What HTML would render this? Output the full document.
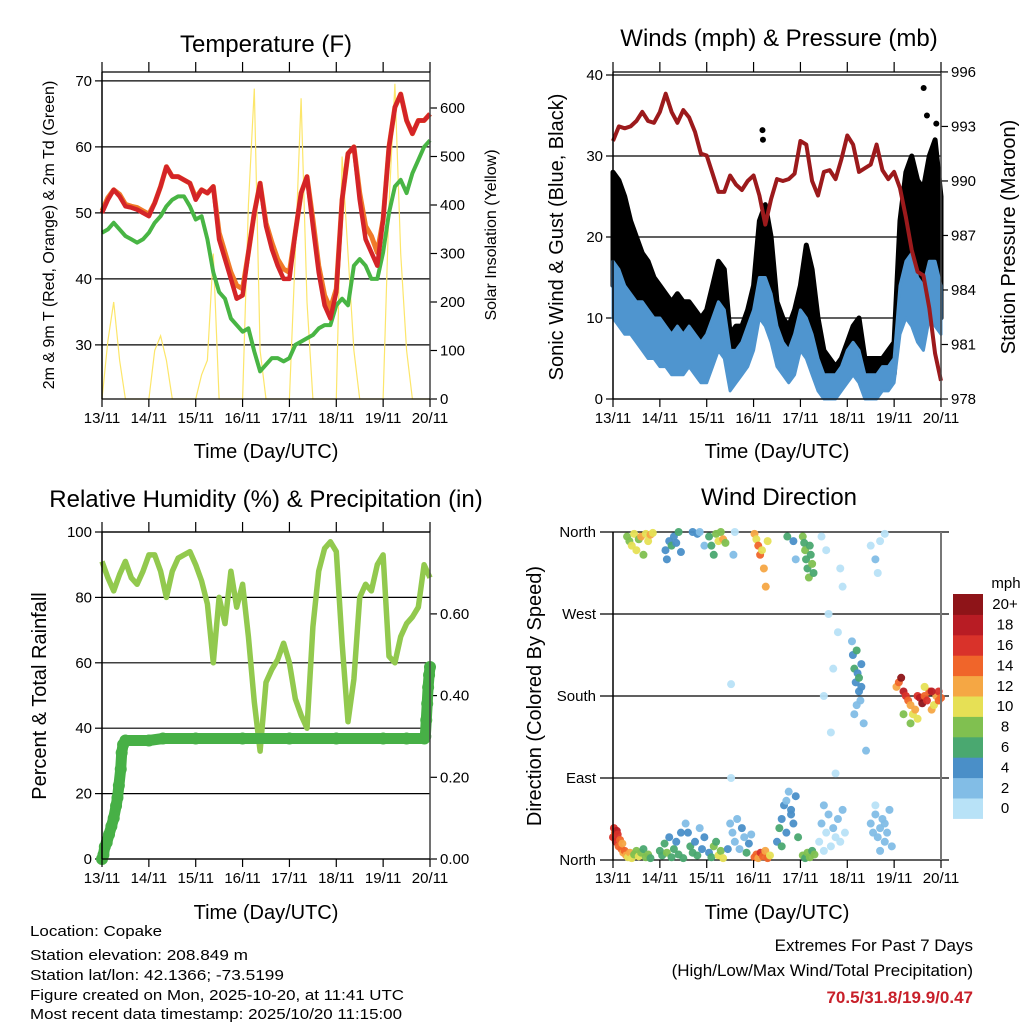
<!DOCTYPE html>
<html><head><meta charset="utf-8"><style>
html,body{margin:0;padding:0;background:#fff}
svg{display:block;font-family:"Liberation Sans",sans-serif}
</style></head><body>
<svg id="fig" width="1024" height="1024" viewBox="0 0 1024 1024" xmlns="http://www.w3.org/2000/svg">
<rect width="1024" height="1024" fill="#fff"/>
<g id="p1"></g>
<g id="p2"></g>
<g id="p3"></g>
<g id="p4"></g>
<g id="txt" font-size="22" fill="#000">
<text x="266" y="52" text-anchor="middle" font-size="24">Temperature (F)</text>
<text x="779" y="46" text-anchor="middle" font-size="24">Winds (mph) &amp; Pressure (mb)</text>
<text x="266" y="507" text-anchor="middle" font-size="24">Relative Humidity (%) &amp; Precipitation (in)</text>
<text x="779" y="505" text-anchor="middle" font-size="24">Wind Direction</text>
<text x="266" y="458" text-anchor="middle" font-size="20">Time (Day/UTC)</text>
<text x="777" y="458" text-anchor="middle" font-size="20">Time (Day/UTC)</text>
<text x="266" y="919" text-anchor="middle" font-size="20">Time (Day/UTC)</text>
<text x="777" y="919" text-anchor="middle" font-size="20">Time (Day/UTC)</text>
<text transform="translate(54,235) rotate(-90)" text-anchor="middle" font-size="16">2m &amp; 9m T (Red, Orange) &amp; 2m Td (Green)</text>
<text transform="translate(496,235) rotate(-90)" text-anchor="middle" font-size="16">Solar Insolation (Yellow)</text>
<text transform="translate(563,237) rotate(-90)" text-anchor="middle" font-size="20">Sonic Wind &amp; Gust (Blue, Black)</text>
<text transform="translate(1015,237) rotate(-90)" text-anchor="middle" font-size="20">Station Pressure (Maroon)</text>
<text transform="translate(46,696) rotate(-90)" text-anchor="middle" font-size="20">Percent &amp; Total Rainfall</text>
<text transform="translate(541,696) rotate(-90)" text-anchor="middle" font-size="20">Direction (Colored By Speed)</text>
<g font-size="15">
<text x="30" y="936" textLength="132" lengthAdjust="spacingAndGlyphs">Location: Copake</text>
<text x="30" y="960" textLength="218" lengthAdjust="spacingAndGlyphs">Station elevation: 208.849 m</text>
<text x="30" y="980" textLength="254" lengthAdjust="spacingAndGlyphs">Station lat/lon: 42.1366; -73.5199</text>
<text x="30" y="1000" textLength="374" lengthAdjust="spacingAndGlyphs">Figure created on Mon, 2025-10-20, at 11:41 UTC</text>
<text x="30" y="1019" textLength="372" lengthAdjust="spacingAndGlyphs">Most recent data timestamp: 2025/10/20 11:15:00</text>
</g>
<g font-size="17" text-anchor="end">
<text x="973" y="951">Extremes For Past 7 Days</text>
<text x="973" y="976">(High/Low/Max Wind/Total Precipitation)</text>
<text x="973" y="1003" fill="#c8202a" font-weight="bold">70.5/31.8/19.9/0.47</text>
</g>
<text x="1006" y="588" text-anchor="middle" font-size="15">mph</text>
</g>
</svg>
<script>
// ---- data (time axis: 3-hour steps from 13/11 00 UTC to 20/11 00 UTC) ----
const dayLabels = ["13/11","14/11","15/11","16/11","17/11","18/11","19/11","20/11"];
const temp2m = [50,52,53.5,52.5,51,50.8,50.5,50,49.5,51.5,54,57,55.5,55.5,55,54.5,52,53.5,53,54,46,43,40,37,37.5,44,50,54.5,48,44.5,42,40,40,47,53,55.5,48,41,36,34,38,52,59,60,52,46,44,42,49,60,66,68,64,62,64,64,65];
const temp9m = [50.3,52.3,53.5,52.8,51.3,51,50.8,50.3,49.8,51.5,54,57,55.5,55.5,55,54.5,52.3,53.5,53,54,47,44,41,39,38.5,44,50,54.5,48.5,45.5,43,41.5,41,47,53,55.5,49,42,37.5,35.5,38.5,52,59,60,53,48,46.5,44,49,60,66,68,64,62,64,64,65];
const dewPoint = [47,47.5,48.5,47.5,46.5,46,45.5,46,47,48.5,49.5,51,52,52.5,52.5,51,49,49.5,46,41,38,37,34,33,32,32.5,29,26,27,28,28,27.5,28,30,30.5,31,31.5,32.5,33,33,36,37,36,42,43,42,40,40,44,50,54,55,53,56,58,60,61];
const solar = [0,120,200,80,0,0,0,0,0,100,130,80,0,0,0,0,0,50,80,300,0,0,0,0,0,400,640,100,0,0,0,0,0,300,620,200,0,0,0,0,0,500,300,100,0,0,0,0,0,400,650,300,100,0,0,0,0];
const pressure = [992.2,993.0,992.9,993.0,993.3,993.8,993.3,993.2,993.8,994.8,993.8,993.2,993.9,993.5,992.7,991.5,991.4,990.4,989.4,989.4,990.3,989.8,989.5,990.0,990.3,989.2,987.6,989.0,990.1,990.0,990.1,990.4,992.2,992.0,990.0,989.2,990.5,990.6,990.1,991.2,992.5,992.0,990.5,990.7,990.9,992.0,990.6,990.1,990.5,989.6,988.0,986.2,985.0,984.8,983.0,980.5,979.0];
const windLow = [10,9,8,8,7,6,5,5,4,4,3,3,3,4,3,2,2,4,6,5,1,2,3,4,6,10,9,7,4,3,2,3,6,5,3,1,0,0,0,1,2,3,2,0,0,0,1,1,2,8,10,9,7,6,10,9,8];
const windHigh = [17,16,14,13,12,12,11,10,10,9,8,9,8,9,8,7,8,10,12,11,6,6,7,9,11,15,15,13,9,7,6,8,11,10,8,5,3,3,3,4,6,7,6,3,3,3,4,4,5,14,17,18,15,14,17,17,14];
const gustLow = [14,14,13,11,10,9,8,7,6,6,5,5,4,5,4,4,4,6,8,7,3,3,4,5,7,13,13,10,6,4,4,5,7,9,7,4,2,2,2,2,3,4,4,2,2,2,2,3,3,12,14,14,11,10,15,14,10];
const gustHigh = [28,27,25,22,20,18,17,15,14,13,12,13,12,12,11,10,11,14,17,16,8,9,9,11,14,22,24,20,12,10,9,11,14,19,16,10,6,5,4,5,7,9,10,5,5,5,5,6,7,22,28,30,27,26,30,32,25];
const gustOutT = [3.19,3.2,6.63,6.9,0.1,6.7];
const gustOutV = [33.2,32,38.4,34,27,35];
const rh = [91,86,82,87,91,86,84,88,93,93,88,80,88,92,93,94,90,85,78,60,80,72,88,77,84,68,48,33,54,58,61,66,60,49,44,40,71,88,95,97,94,66,42,55,80,84,82,90,93,62,60,68,72,74,77,90,86];
const precipT = [0,0.03,0.06,0.1,0.15,0.2,0.25,0.3,0.33,0.36,0.4,0.42,0.45,0.5,1.0,1.3,2,3,4,5,6,6.5,6.88,6.9,6.92,6.94,6.96,6.98,7.0];
const precipV = [0,0.01,0.03,0.04,0.06,0.08,0.1,0.13,0.15,0.18,0.22,0.26,0.28,0.29,0.29,0.295,0.295,0.295,0.295,0.295,0.295,0.295,0.295,0.30,0.34,0.38,0.42,0.45,0.47];
const dirT = [0,0.02,0.04,0.06,0.08,0.1,0.12,0.15,0.18,0.2,0.22,0.25,
0.28,0.32,0.36,0.4,0.45,0.5,0.55,0.6,0.65,0.7,0.75,0.8,
0.3,0.35,0.4,0.45,0.5,0.55,0.6,0.65,0.7,0.75,0.8,0.85,
1.0,1.05,1.1,1.15,1.2,1.25,1.3,1.35,1.4,1.45,1.5,
1.12,1.15,1.2,1.25,1.3,1.35,1.4,1.45,
1.55,1.6,1.65,1.7,1.75,1.8,1.85,1.9,1.95,
1.7,1.8,1.85,1.95,
2.05,2.1,2.15,2.2,2.25,2.3,2.35,2.4,
2.05,2.1,2.15,2.2,2.25,2.3,2.35,2.45,
2.5,2.55,2.6,2.65,2.7,2.75,2.8,2.85,2.9,2.95,
2.52,2.52,2.57,2.6,
3.02,3.06,3.1,3.14,3.18,3.22,3.26,3.3,
3.02,3.06,3.1,3.15,3.2,3.25,3.3,3.35,
3.5,3.55,3.6,3.65,3.7,3.75,3.8,3.85,3.9,3.95,3.6,3.7,3.8,
3.72,3.85,3.9,
4.05,4.08,4.1,4.12,4.15,4.18,4.2,4.22,4.25,4.28,
4.05,4.1,4.15,4.2,4.25,4.3,
4.4,4.45,4.5,4.5,4.55,4.6,4.65,4.7,4.75,4.8,4.85,4.9,4.95,4.45,4.55,4.6,4.7,4.8,4.9,4.5,4.65,4.75,4.85,
5.1,5.12,5.15,5.18,5.2,5.22,5.25,5.28,5.3,5.15,5.2,5.25,5.3,5.35,5.4,
5.5,5.55,5.6,5.65,5.7,5.75,5.8,5.85,5.9,5.95,5.6,5.7,5.8,
5.5,5.6,5.65,5.7,5.8,
6.05,6.1,6.15,6.2,6.25,6.3,6.35,6.4,6.45,6.5,6.55,6.6,6.65,6.7,6.75,6.8,6.85,6.9,6.95,7.0,6.2,6.35,6.5,6.65,6.8,6.95];
const dirDeg = [25,35,30,20,32,28,15,22,12,18,8,10,
5,3,8,2,6,10,4,8,12,3,6,2,
355,350,345,358,340,352,355,335,358,350,357,359,
10,5,18,8,25,3,12,20,6,30,2,
340,330,350,345,355,348,360,338,
40,30,15,8,20,5,35,12,25,
360,358,360,345,
355,345,335,358,350,360,352,348,
8,3,15,20,5,10,2,12,
40,30,20,45,12,35,25,8,18,28,
193,90,335,360,
358,352,345,335,340,320,300,350,
3,6,2,8,4,10,2,5,
20,35,45,60,30,75,55,40,70,25,15,65,50,
355,350,330,
355,348,340,330,320,310,345,335,325,315,
5,2,8,3,10,6,
20,40,10,60,30,50,15,35,25,45,20,55,30,355,340,270,210,250,300,180,140,95,320,
240,225,210,195,230,205,185,175,190,160,170,200,215,150,120,
40,30,50,25,35,45,20,30,55,15,60,10,40,
345,330,315,350,358,
190,195,200,185,180,175,170,160,165,180,178,172,180,175,185,165,170,180,185,178,160,150,155,190,185,175];
const dirSpeed = [16,17,15,16,18,16,14,15,14,13,12,14,
12,11,12,10,9,8,10,8,7,8,9,7,
8,9,10,11,10,8,12,9,10,11,12,10,
7,6,7,8,5,7,6,4,7,4,6,
4,5,5,6,4,5,7,4,
3,4,6,6,4,6,3,5,4,
4,4,3,3,
6,7,6,8,10,9,12,8,
4,6,8,7,10,9,11,5,
3,2,3,2,3,4,2,6,5,2,
1,1,2,1,
12,11,14,15,10,12,13,10,
14,15,13,16,15,12,14,11,
5,6,4,4,5,3,4,4,5,6,7,3,4,
6,4,2,
8,7,8,6,7,8,6,7,8,6,
8,7,8,9,7,8,
1,2,1,2,1,2,1,2,1,2,1,2,1,1,1,1,1,1,1,1,1,1,1,
3,4,6,4,7,5,4,3,5,2,3,6,4,2,2,
2,3,2,3,2,3,2,2,3,2,1,2,3,
1,2,1,1,1,
12,15,20,18,16,14,13,10,12,17,18,20,15,16,14,12,10,12,16,14,8,9,10,11,18,15];
const speedColors = ["#b8e2f7","#82bde6","#4a8fc8","#4aa870","#80c050","#e6e055","#f5a744","#f0652a","#d9322a","#b81c24","#8e1418"];
const legendLabels = ["0","2","4","6","8","10","12","14","16","18","20+"];
const tempTicks = [30,40,50,60,70];
const solarTicks = [0,100,200,300,400,500,600];
const windTicks = [0,10,20,30,40];
const pressTicks = [978,981,984,987,990,993,996];
const rhTicks = [0,20,40,60,80,100];
const precipTicks = [0,0.2,0.4,0.6];
const dirTicks = [0,90,180,270,360];
const dirNames = ["North","East","South","West","North"];

const NS = "http://www.w3.org/2000/svg";
function el(parent, tag, attrs, name){
  const e = document.createElementNS(NS, tag);
  for (const k in attrs) e.setAttribute(k, attrs[k]);
  
  
  parent.appendChild(e);
  return e;
}
const tStep = 0.125;
function xs(x0,x1){ return t => x0 + t/7*(x1-x0); }
function linePath(xf, yf, vals, times){
  let d = "";
  vals.forEach((v,i)=>{ const t = times ? times[i] : i*tStep; d += (i?"L":"M")+xf(t).toFixed(1)+","+yf(v).toFixed(1); });
  return d;
}
function bandPath(xf, yf, lo, hi){
  let d = "";
  hi.forEach((v,i)=>{ d += (i?"L":"M")+xf(i*tStep).toFixed(1)+","+yf(v).toFixed(1); });
  for (let i=lo.length-1;i>=0;i--) d += "L"+xf(i*tStep).toFixed(1)+","+yf(lo[i]).toFixed(1);
  return d+"Z";
}
function frame(g, x0,x1,y0,y1, xf){
  dayLabels.forEach((lab,i)=>{
    const x = xf(i);
    el(g,"line",{x1:x,y1:y0-10,x2:x,y2:y0,stroke:"#000","stroke-width":1.2},"x-tick-top");
    el(g,"line",{x1:x,y1:y1,x2:x,y2:y1+8,stroke:"#000","stroke-width":1.2},"x-tick-bottom");
    const t = el(g,"text",{x:x,y:y1+24,"text-anchor":"middle","font-size":15},"x-tick-label");
    t.textContent = lab;
  });
  el(g,"line",{x1:x0,y1:y0,x2:x0,y2:y1,stroke:"#000","stroke-width":1.5},"left-axis");
  el(g,"line",{x1:x1,y1:y0,x2:x1,y2:y1,stroke:"#444","stroke-width":1.5},"right-axis");
  el(g,"line",{x1:x0,y1:y0,x2:x1,y2:y0,stroke:"#000","stroke-width":1.2},"top-axis");
  el(g,"line",{x1:x0,y1:y1,x2:x1,y2:y1,stroke:"#000","stroke-width":1.2},"bottom-axis");
}
function leftTicks(g, ticks, yf, x0, x1, fmt, grid){
  ticks.forEach(v=>{
    const y = yf(v);
    if (grid) el(g,"line",{x1:x0,y1:y,x2:x1,y2:y,stroke:"#000","stroke-width":1.2},"grid-line");
    el(g,"line",{x1:x0-7,y1:y,x2:x0,y2:y,stroke:"#000","stroke-width":1.2},"y-tick");
    const t = el(g,"text",{x:x0-10,y:y+5,"text-anchor":"end","font-size":15},"y-tick-label");
    t.textContent = fmt(v);
  });
}
function rightTicks(g, ticks, yf, x1, fmt){
  ticks.forEach(v=>{
    const y = yf(v);
    el(g,"line",{x1:x1,y1:y,x2:x1+7,y2:y,stroke:"#000","stroke-width":1.2},"y2-tick");
    const t = el(g,"text",{x:x1+10,y:y+5,"text-anchor":"start","font-size":15},"y2-tick-label");
    t.textContent = fmt(v);
  });
}

// ---- Panel 1: temperature ----
(function(){
  const g = document.getElementById("p1");
  const x0=102,x1=430,y0=72,y1=399;
  const xf = xs(x0,x1);
  const yT = v => y1 - (v-21.8)*6.6;
  const yS = v => y1 - v*0.485;
  leftTicks(g,tempTicks,yT,x0,x1,v=>String(v),true);
  rightTicks(g,solarTicks,yS,x1,v=>String(v));
  el(g,"path",{d:linePath(xf,yS,solar),fill:"none",stroke:"#fce66a","stroke-width":1.2},"solar-line");
  el(g,"path",{d:linePath(xf,yT,dewPoint),fill:"none",stroke:"#48b544","stroke-width":4,"stroke-linejoin":"round"},"dewpoint-line");
  el(g,"path",{d:linePath(xf,yT,temp9m),fill:"none",stroke:"#f07a28","stroke-width":5,"stroke-linejoin":"round"},"temp-9m-line");
  el(g,"path",{d:linePath(xf,yT,temp2m),fill:"none",stroke:"#d42428","stroke-width":4.5,"stroke-linejoin":"round"},"temp-2m-line");
  frame(g,x0,x1,y0,y1,xf);
})();

// ---- Panel 2: winds & pressure ----
(function(){
  const g = document.getElementById("p2");
  const x0=613,x1=941,y0=72,y1=399;
  const xf = xs(x0,x1);
  const yW = v => y1 - v*8.1;
  const yP = v => y1 - (v-978)*18.17;
  leftTicks(g,windTicks,yW,x0,x1,v=>String(v),true);
  rightTicks(g,pressTicks,yP,x1,v=>String(v));
  el(g,"path",{d:bandPath(xf,yW,gustLow,gustHigh),fill:"#000",stroke:"#000","stroke-width":5,"stroke-linejoin":"round"},"gust-band");
  gustOutT.forEach((t,i)=>{
    el(g,"circle",{cx:xf(t),cy:yW(gustOutV[i]),r:3,fill:"#000"},"gust-point");
  });
  el(g,"path",{d:bandPath(xf,yW,windLow,windHigh),fill:"#4f95cf",stroke:"#4f95cf","stroke-width":3,"stroke-linejoin":"round"},"wind-band");
  el(g,"path",{d:linePath(xf,yP,pressure),fill:"none",stroke:"#9c1a1c","stroke-width":4,"stroke-linejoin":"round"},"pressure-line");
  frame(g,x0,x1,y0,y1,xf);
})();

// ---- Panel 3: humidity & precipitation ----
(function(){
  const g = document.getElementById("p3");
  const x0=102,x1=430,y0=532,y1=859;
  const xf = xs(x0,x1);
  const yR = v => y1 - v*3.27;
  const yP = v => y1 - v*408.5;
  leftTicks(g,rhTicks,yR,x0,x1,v=>String(v),true);
  rightTicks(g,precipTicks,yP,x1,v=>v.toFixed(2));
  el(g,"path",{d:linePath(xf,yR,rh),fill:"none",stroke:"#92c94e","stroke-width":5.5,"stroke-linejoin":"round"},"humidity-line");
  el(g,"path",{d:linePath(xf,yP,precipV,precipT),fill:"none",stroke:"#47b046","stroke-width":11,"stroke-linecap":"round","stroke-linejoin":"round"},"precip-line");
  precipT.forEach((t,i)=>{
    el(g,"circle",{cx:xf(t),cy:yP(precipV[i]),r:6,fill:"#47b046"},"precip-point");
  });
  frame(g,x0,x1,y0,y1,xf);
})();

// ---- Panel 4: wind direction ----
(function(){
  const g = document.getElementById("p4");
  const x0=613,x1=941,y0=532,y1=860;
  const xf = xs(x0,x1);
  const yD = v => y1 - v/360*328;
  dirTicks.forEach((v,i)=>{
    const y = yD(v);
    el(g,"line",{x1:x0-13,y1:y,x2:x1+8,y2:y,stroke:"#000","stroke-width":1.2},"direction-grid-line");
    const t = el(g,"text",{x:x0-17,y:y+5,"text-anchor":"end","font-size":15},"direction-tick-label");
    t.textContent = dirNames[i];
  });
  dirT.forEach((t,i)=>{
    const b = Math.min(10, Math.floor(dirSpeed[i]/2));
    el(g,"circle",{cx:xf(t),cy:yD(dirDeg[i]),r:4,fill:speedColors[b],"fill-opacity":0.95},"direction-point");
  });
  dayLabels.forEach((lab,i)=>{
    const x = xf(i);
    el(g,"line",{x1:x,y1:y1,x2:x,y2:y1+8,stroke:"#000","stroke-width":1.2},"x-tick-bottom");
    const t = el(g,"text",{x:x,y:y1+23,"text-anchor":"middle","font-size":15},"x-tick-label");
    t.textContent = lab;
  });
  el(g,"line",{x1:x0,y1:y0,x2:x0,y2:y1,stroke:"#000","stroke-width":1.5},"left-axis");
  el(g,"line",{x1:x1,y1:y0,x2:x1,y2:y1,stroke:"#777","stroke-width":2},"right-axis");
  // legend
  const lx=953, ly0=594, bh=20.4;
  legendLabels.forEach((lab,i)=>{
    const y = ly0 + (10-i)*bh;
    el(g,"rect",{x:lx,y:y,width:30,height:bh+0.5,fill:speedColors[i]},"legend-swatch");
    const t = el(g,"text",{x:1005,y:y+bh/2+5,"text-anchor":"middle","font-size":15},"legend-label");
    t.textContent = lab;
  });
})();
</script>
</body></html>
